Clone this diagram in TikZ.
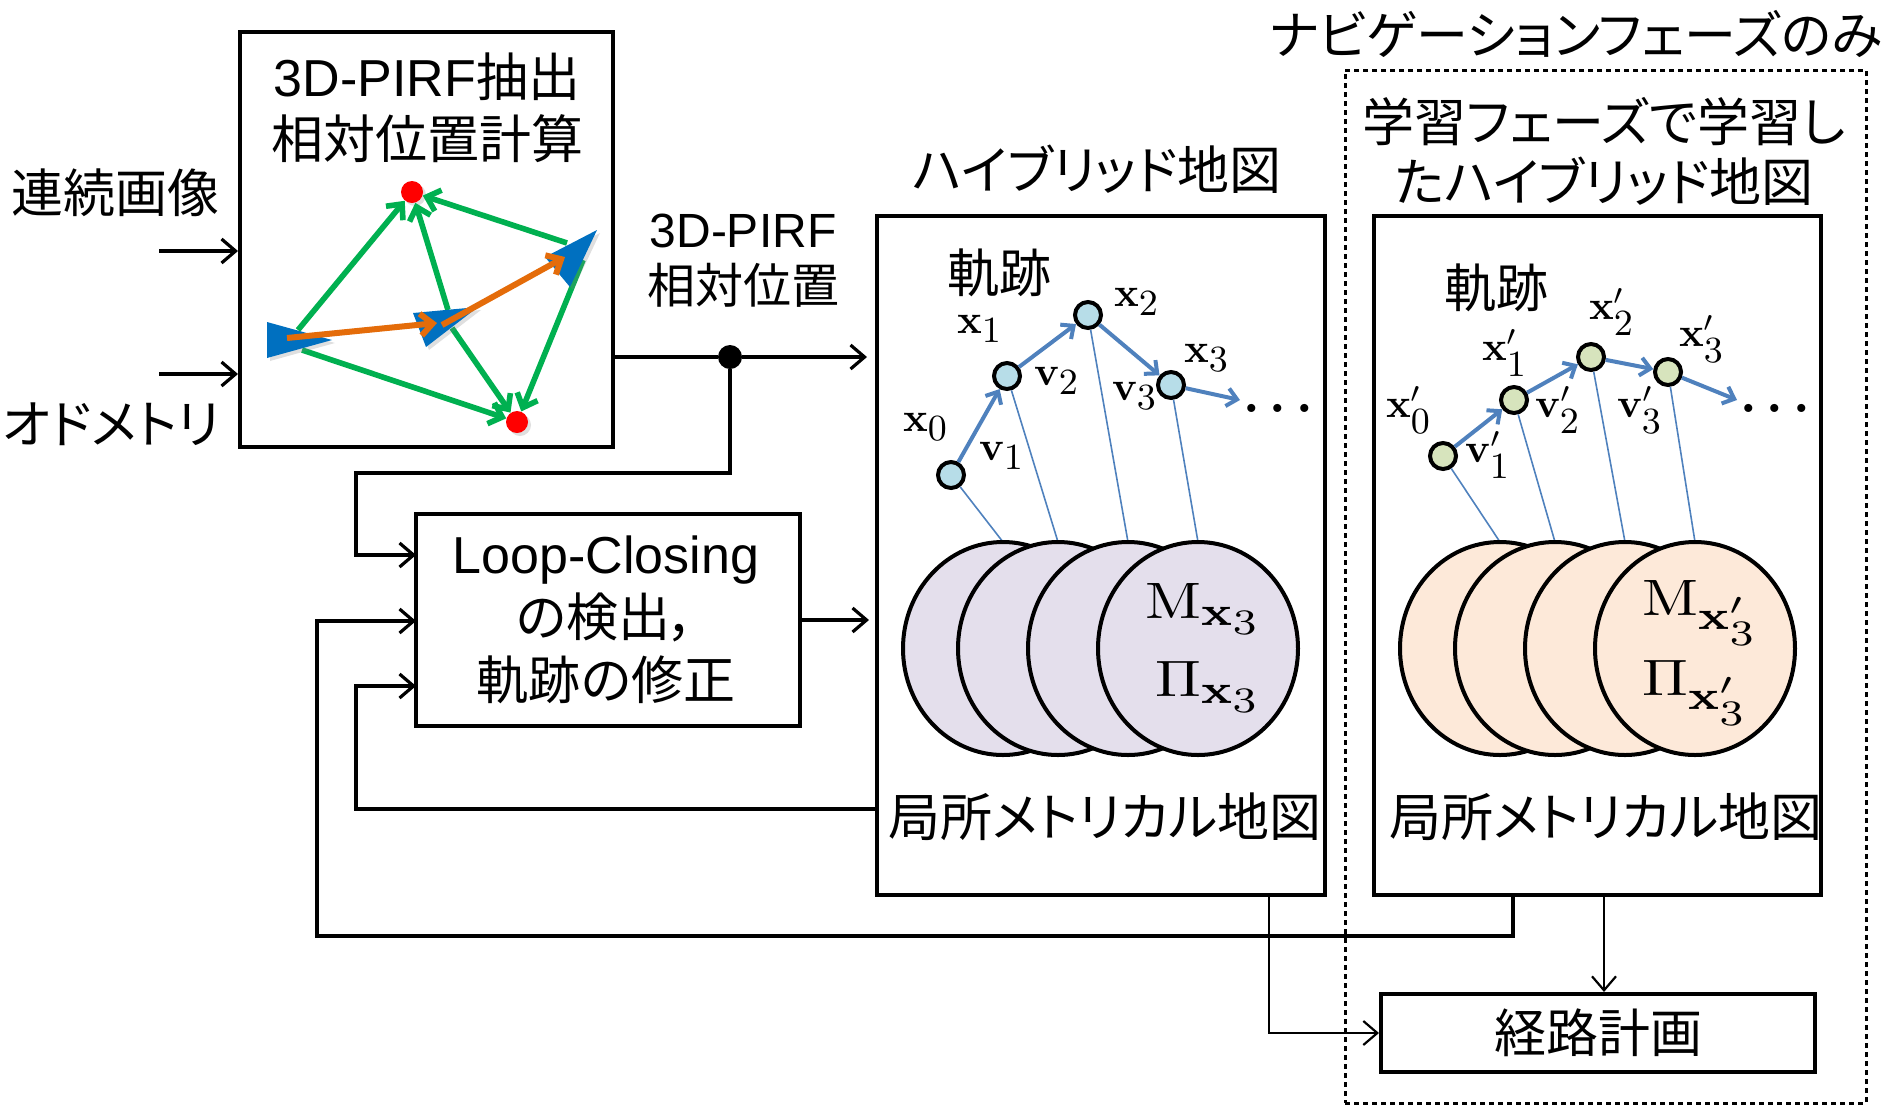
\RequirePackage{fix-cm}
\documentclass[tikz,border=0pt]{standalone}
\usepackage{graphicx}
\usepackage[no-math]{fontspec}
\setmainfont{Liberation Sans}
\newfontfamily\jp[RawFeature=+palt]{Noto Sans CJK JP}
\usetikzlibrary{arrows.meta,shapes.geometric,shadows}
\definecolor{tblue}{HTML}{0070C0}
\definecolor{tgreen}{HTML}{00B050}
\definecolor{torange}{HTML}{E46C0A}
\definecolor{lblue}{HTML}{4F81BD}
\definecolor{nodeA}{HTML}{B7DDE8}
\definecolor{nodeB}{HTML}{D7E4BD}
\definecolor{ellA}{HTML}{E4DFEC}
\definecolor{ellB}{HTML}{FDE9D9}
\newcommand{\lsub}[2]{\mbox{\fontsize{#1}{#1}\selectfont$#2$}}
\newcommand{\lab}[2]{\scalebox{2.05}{$\mathbf{#1}_{\lsub{9}{#2}}$}}
\newcommand{\labp}[2]{\scalebox{2.05}{$\mathbf{#1}'_{\lsub{9}{#2}}$}}
\newcommand{\mapsym}[2]{\scalebox{3.05}[2.56]{$\mathrm{#1}_{\lsub{8}{\mathbf{x}#2_{\lsub{7}{3}}}}$}}
\begin{document}
\begin{tikzpicture}[x=0.5pt,y=-0.5pt,
 box/.style={draw, line width=2pt, inner sep=0pt},
 big/.style={font=\fontsize{26}{31}\selectfont, inner sep=0pt},
 mid/.style={font=\fontsize{24}{28}\selectfont, inner sep=0pt},
 conn/.style={line width=1.6pt},
 thinconn/.style={line width=1.1pt},
 tip/.style={-{Straight Barb[length=7pt,width=12pt]}},
 traj/.style={circle, draw, line width=2pt, minimum size=13pt, inner sep=0pt},
 barrow/.style={draw=lblue, line width=2pt, -{Straight Barb[length=5pt,width=9pt]}},
 tline/.style={draw=lblue, line width=0.8pt},
 lm/.style={font=\fontsize{10}{12}\selectfont, inner sep=0pt},
 dt/.style={font=\fontsize{10}{12}\selectfont\boldmath, inner sep=0pt},
 em/.style={font=\fontsize{10}{12}\selectfont, inner sep=0pt},
 mapell/.style={ellipse, draw, line width=2pt, minimum width=100pt, minimum height=106.5pt, inner sep=0pt},
 garrow/.style={draw=tgreen, line width=2.8pt, -{Straight Barb[length=6pt,width=11pt]}},
 oarrow/.style={draw=torange, line width=3pt, -{Straight Barb[length=6pt,width=11pt]}},
 shad/.style={drop shadow={opacity=0.25, shadow xshift=1.5pt, shadow yshift=-1.5pt}}
]
\useasboundingbox (0,0) rectangle (1891,1110);

% ---------- boxes ----------
\node[box, minimum width=186.5pt, minimum height=207.5pt] (pirf) at (426.5,239.5) {};
\node[box, minimum width=192pt, minimum height=106pt] (loop) at (608,620) {};
\node[box, minimum width=224pt, minimum height=339.5pt] (hyb) at (1101,555.5) {};
\node[box, minimum width=223.5pt, minimum height=339.5pt] (lrn) at (1597.5,555.5) {};
\node[draw, line width=1.5pt, dash pattern=on 2.5pt off 2pt, minimum width=260.5pt, minimum height=516.5pt, inner sep=0pt] (nav) at (1605.5,586.5) {};
\node[box, minimum width=217pt, minimum height=39pt] (plan) at (1598,1033) {};

% ---------- texts ----------
\node[big, align=center] (pirft) at (427,108) {3D-PIRF{\jp 抽出}\\{\jp 相対位置計算}};
\node[big] (lab1) at (115,193) {\jp 連続画像};
\node[big] (lab2) at (111,424) {\jp オドメトリ};
\node[mid, align=center] (rel) at (743,261) {3D-PIRF\\{\jp 相対位置}};
\node[big, align=center, font=\fontsize{26}{31.5}\selectfont] (loopt) at (606,620) {Loop-Closing\\{\jp の検出，}\\{\jp 軌跡の修正}};
\node[big] (hybt) at (1097,169) {\jp ハイブリッド地図};
\node[big, align=center, font=\fontsize{26}{30}\selectfont] (lrnt) at (1604,151) {\jp 学習フェーズで学習し\\\jp たハイブリッド地図};
\node[big] (navt) at (1576,34) {\jp ナビゲーションフェーズのみ};
\node[big] (plant) at (1598,1033) {\jp 経路計画};

% ---------- 3D-PIRF sketch ----------
\node[circle, fill=red, minimum size=11pt, inner sep=0pt, shad] (dtop) at (412,192) {};
\node[circle, fill=red, minimum size=11pt, inner sep=0pt, shad] (dbot) at (517,422) {};
\coordinate (g1s) at (298,330);
\coordinate (g2s) at (448,310);
\coordinate (g3s) at (567,243);
\coordinate (g4s) at (302,350);
\coordinate (g5s) at (452,328);
\coordinate (g6s) at (583,260);
\draw[garrow] (g1s) -- (dtop);
\draw[garrow] (g2s) -- (dtop);
\draw[garrow] (g3s) -- (dtop);
\draw[garrow] (g4s) -- (dbot);
\draw[garrow] (g5s) -- (dbot);
\draw[garrow] (g6s) -- (dbot);
\fill[tblue, shad] (267,322) -- (332,340) -- (267,358) -- cycle;
\fill[tblue, shad] (413,313) -- (478,307) -- (426,347) -- cycle;
\fill[tblue, shad] (545,257) -- (597,230) -- (570,287) -- cycle;
\coordinate (o1s) at (287,338);
\coordinate (o1e) at (437,323);
\coordinate (o2s) at (442,325);
\coordinate (o2e) at (565,257);
\draw[oarrow] (o1s) -- (o1e);
\draw[oarrow] (o2s) -- (o2e);

% ---------- connectors ----------
\coordinate (in1) at (159,251);
\coordinate (in2) at (159,374);
\draw[conn,tip] (in1) -- (in1 -| pirf.west);
\draw[conn,tip] (in2) -- (in2 -| pirf.west);
\node[circle, fill, inner sep=0pt, minimum size=12pt] (jn) at (730,357) {};
\draw[conn] (pirf.east |- jn) -- (jn);
\draw[conn,tip,shorten >=4pt] (jn) -- (jn -| hyb.west);
\coordinate (c1) at (356,473);
\coordinate (lin1) at (416,555);
\draw[conn,tip] (jn) |- (c1) |- (lin1);
\draw[conn,tip,shorten >=3pt] (loop.east) -- (loop.east -| hyb.west);
\coordinate (h1) at (877,809);
\coordinate (c2) at (356,686);
\coordinate (lin3) at (416,686);
\draw[conn,tip] (h1) -| (c2) -- (lin3);
\coordinate (l1) at (1513,895);
\coordinate (c4) at (317,936);
\coordinate (c3) at (317,621);
\coordinate (lin2) at (416,621);
\draw[conn,tip] (l1) |- (c4) -- (c3) -- (lin2);
\coordinate (h2) at (1269,895);
\draw[thinconn,tip] (h2) |- (plan.west);
\coordinate (l2) at (1604,895);
\draw[thinconn,tip] (l2) -- (l2 |- plan.north);

% ---------- hybrid map ----------
\node[big] (hk) at (999,273) {\jp 軌跡};
\node[traj, fill=nodeA] (x0) at (951,475) {};
\node[traj, fill=nodeA] (x1) at (1007,376) {};
\node[traj, fill=nodeA] (x2) at (1088,315) {};
\node[traj, fill=nodeA] (x3) at (1171,385) {};
\coordinate (x4) at (1240,400);
\draw[barrow] (x0) -- (x1);
\draw[barrow] (x1) -- (x2);
\draw[barrow] (x2) -- (x3);
\draw[barrow] (x3) -- (x4);
\node[lm] (lx0) at (926,427) {\lab{x}{0}};
\node[lm] (lx1) at (980,329) {\lab{x}{1}};
\node[lm] (lx2) at (1137,302) {\lab{x}{2}};
\node[lm] (lx3) at (1207,358) {\lab{x}{3}};
\node[lm] (lv1) at (1002,456) {\lab{v}{1}};
\node[lm] (lv2) at (1057,381) {\lab{v}{2}};
\node[lm] (lv3) at (1135,396) {\lab{v}{3}};
\node[dt] (hdots) at (1278,408) {\scalebox{2.6}{$\ldots$}};
\coordinate (e1t) at (1003,542);
\coordinate (e2t) at (1058,542);
\coordinate (e3t) at (1128,542);
\coordinate (e4t) at (1198,542);
\draw[tline] (x0) -- (e1t);
\draw[tline] (x1) -- (e2t);
\draw[tline] (x2) -- (e3t);
\draw[tline] (x3) -- (e4t);
\node[mapell, fill=ellA] (e1) at (1003,648.5) {};
\node[mapell, fill=ellA] (e2) at (1058,648.5) {};
\node[mapell, fill=ellA] (e3) at (1128,648.5) {};
\node[mapell, fill=ellA] (e4) at (1198,648.5) {};
\node[em] (hm) at (1204,609) {\mapsym{M}{}};
\node[em] (hp) at (1209,687) {\mapsym{\Pi}{}};
\node[big] (hloc) at (1105,817) {\jp 局所メトリカル地図};

% ---------- learned map ----------
\node[big] (lk) at (1496,288) {\jp 軌跡};
\node[traj, fill=nodeB] (y0) at (1443,456) {};
\node[traj, fill=nodeB] (y1) at (1514,400) {};
\node[traj, fill=nodeB] (y2) at (1591,357) {};
\node[traj, fill=nodeB] (y3) at (1668,372) {};
\coordinate (y4) at (1737,400);
\draw[barrow] (y0) -- (y1);
\draw[barrow] (y1) -- (y2);
\draw[barrow] (y2) -- (y3);
\draw[barrow] (y3) -- (y4);
\node[lm] (ly0) at (1409,410) {\labp{x}{0}};
\node[lm] (ly1) at (1505,353) {\labp{x}{1}};
\node[lm] (ly2) at (1612,312) {\labp{x}{2}};
\node[lm] (ly3) at (1702,339) {\labp{x}{3}};
\node[lm] (lw1) at (1488,455) {\labp{v}{1}};
\node[lm] (lw2) at (1558,410) {\labp{v}{2}};
\node[lm] (lw3) at (1640,410) {\labp{v}{3}};
\node[dt] (ldots) at (1775,408) {\scalebox{2.6}{$\ldots$}};
\coordinate (f1t) at (1500,542);
\coordinate (f2t) at (1555,542);
\coordinate (f3t) at (1625,542);
\coordinate (f4t) at (1695,542);
\draw[tline] (y0) -- (f1t);
\draw[tline] (y1) -- (f2t);
\draw[tline] (y2) -- (f3t);
\draw[tline] (y3) -- (f4t);
\node[mapell, fill=ellB] (f1) at (1500,648.5) {};
\node[mapell, fill=ellB] (f2) at (1555,648.5) {};
\node[mapell, fill=ellB] (f3) at (1625,648.5) {};
\node[mapell, fill=ellB] (f4) at (1695,648.5) {};
\node[em] (lmm) at (1701,613) {\mapsym{M}{'}};
\node[em] (lpp) at (1696,693) {\mapsym{\Pi}{'}};
\node[big] (lloc) at (1606,817) {\jp 局所メトリカル地図};
\end{tikzpicture}
\end{document}
